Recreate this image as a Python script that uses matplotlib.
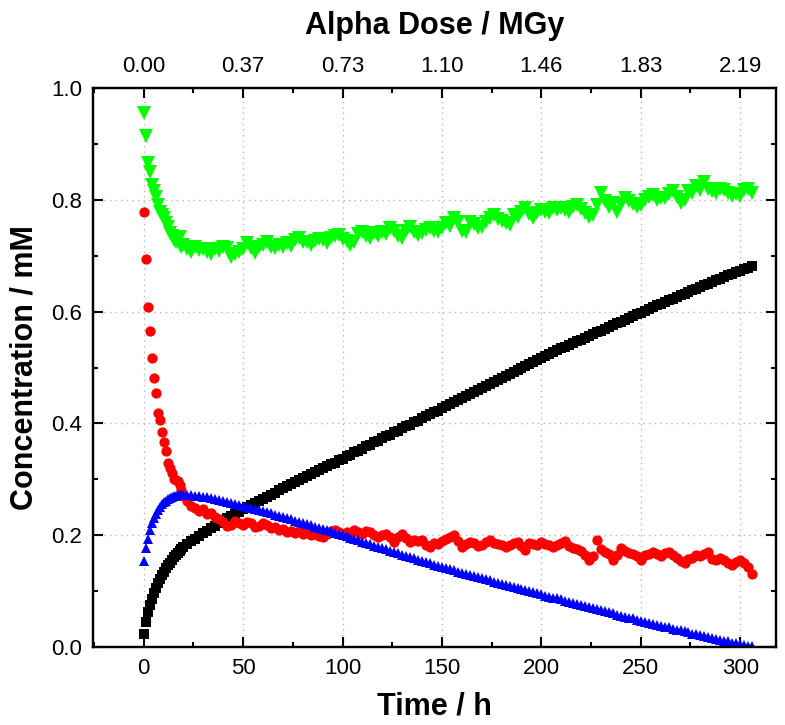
import matplotlib
matplotlib.use("Agg")
import matplotlib.pyplot as plt
from matplotlib.ticker import MultipleLocator

plt.rcParams['font.family'] = ['Liberation Sans', 'DejaVu Sans']

# sampling times (h): hourly for the first 20 h, then every 2 h
time_h = list(range(0, 21)) + list(range(22, 307, 2))

black_sq = [
    0.023, 0.044, 0.062, 0.075, 0.086, 0.097, 0.106, 0.115, 0.122, 0.129, 0.135,
    0.141, 0.146, 0.151, 0.156, 0.161, 0.165, 0.169, 0.172, 0.175, 0.178,
    0.184, 0.189, 0.194, 0.199, 0.204, 0.208, 0.212, 0.217, 0.221, 0.225,
    0.230, 0.234, 0.238, 0.242, 0.246,
    0.250, 0.254, 0.258, 0.262, 0.265, 0.269, 0.272, 0.276, 0.280, 0.284,
    0.288, 0.291, 0.295, 0.299, 0.302, 0.306, 0.309, 0.313, 0.316, 0.320,
    0.323, 0.327, 0.330, 0.334, 0.337,
    0.341, 0.344, 0.348, 0.351, 0.355, 0.359, 0.362, 0.366, 0.369, 0.373,
    0.377, 0.380, 0.384, 0.387, 0.391, 0.395, 0.398, 0.402, 0.405, 0.409,
    0.413, 0.416, 0.420, 0.423, 0.427,
    0.431, 0.434, 0.438, 0.441, 0.445, 0.449, 0.452, 0.456, 0.459, 0.463,
    0.467, 0.470, 0.474, 0.477, 0.481, 0.485, 0.488, 0.492, 0.495, 0.499,
    0.503, 0.506, 0.510, 0.513, 0.517,
    0.520, 0.524, 0.527, 0.531, 0.534, 0.537, 0.541, 0.544, 0.547, 0.550,
    0.553, 0.557, 0.560, 0.563, 0.566, 0.569, 0.573, 0.576, 0.579, 0.582,
    0.585, 0.589, 0.592, 0.595, 0.598,
    0.601, 0.604, 0.608, 0.611, 0.614, 0.617, 0.620, 0.623, 0.626, 0.629,
    0.632, 0.635, 0.638, 0.641, 0.644, 0.647, 0.650, 0.653, 0.656, 0.659,
    0.662, 0.665, 0.668, 0.671, 0.673, 0.676, 0.678, 0.681,
]

red_circ = [
    0.778, 0.694, 0.608, 0.565, 0.517, 0.481, 0.454, 0.419, 0.406, 0.385, 0.367,
    0.350, 0.329, 0.320, 0.311, 0.300, 0.299, 0.297, 0.290, 0.281, 0.270,
    0.262, 0.252, 0.248, 0.244, 0.246, 0.238, 0.240, 0.232, 0.229, 0.224,
    0.216, 0.219, 0.226, 0.221, 0.218,
    0.224, 0.222, 0.214, 0.216, 0.221, 0.218, 0.212, 0.214, 0.209, 0.211,
    0.206, 0.208, 0.204, 0.207, 0.203, 0.205, 0.200, 0.202, 0.198, 0.197,
    0.203, 0.207, 0.210, 0.205, 0.203,
    0.206, 0.201, 0.209, 0.205, 0.203, 0.207, 0.206, 0.200, 0.197, 0.201,
    0.203, 0.196, 0.188, 0.196, 0.203, 0.195, 0.188, 0.192, 0.189, 0.191,
    0.183, 0.179, 0.186, 0.185, 0.190,
    0.194, 0.196, 0.200, 0.190, 0.179, 0.184, 0.188, 0.186, 0.181, 0.182,
    0.188, 0.191, 0.186, 0.185, 0.182, 0.179, 0.183, 0.186, 0.188, 0.180,
    0.174, 0.186, 0.185, 0.182, 0.187,
    0.185, 0.183, 0.179, 0.182, 0.186, 0.190, 0.181, 0.177, 0.175, 0.172,
    0.165, 0.156, 0.162, 0.192, 0.176, 0.170, 0.167, 0.156, 0.165, 0.177,
    0.172, 0.168, 0.166, 0.162, 0.156,
    0.164, 0.167, 0.170, 0.166, 0.162, 0.168, 0.170, 0.165, 0.160, 0.153,
    0.150, 0.157, 0.160, 0.164, 0.162, 0.166, 0.170, 0.158, 0.155, 0.159,
    0.156, 0.150, 0.147, 0.152, 0.155, 0.150, 0.143, 0.130,
]

blue_tri = [
    0.154, 0.177, 0.194, 0.209, 0.221, 0.230, 0.238, 0.245, 0.250, 0.255, 0.259,
    0.262, 0.265, 0.267, 0.268, 0.270, 0.271, 0.272, 0.272, 0.272, 0.272,
    0.272, 0.272, 0.271, 0.270, 0.269, 0.268, 0.266, 0.265, 0.263, 0.262,
    0.260, 0.258, 0.256, 0.254, 0.252,
    0.250, 0.248, 0.247, 0.245, 0.243, 0.241, 0.239, 0.237, 0.235, 0.233,
    0.231, 0.229, 0.226, 0.224, 0.222, 0.220, 0.218, 0.215, 0.213, 0.211,
    0.209, 0.207, 0.204, 0.202, 0.200,
    0.198, 0.195, 0.193, 0.191, 0.188, 0.186, 0.184, 0.181, 0.179, 0.177,
    0.175, 0.172, 0.170, 0.168, 0.165, 0.163, 0.161, 0.159, 0.156, 0.154,
    0.152, 0.150, 0.147, 0.145, 0.143,
    0.141, 0.139, 0.137, 0.135, 0.133, 0.131, 0.129, 0.127, 0.125, 0.123,
    0.121, 0.119, 0.117, 0.115, 0.113, 0.111, 0.109, 0.108, 0.106, 0.104,
    0.102, 0.100, 0.098, 0.096, 0.094,
    0.092, 0.090, 0.088, 0.087, 0.085, 0.083, 0.081, 0.079, 0.077, 0.075,
    0.073, 0.071, 0.070, 0.068, 0.066, 0.064, 0.062, 0.060, 0.058, 0.056,
    0.054, 0.052, 0.051, 0.049, 0.047,
    0.045, 0.043, 0.042, 0.040, 0.038, 0.036, 0.035, 0.033, 0.031, 0.030,
    0.028, 0.026, 0.024, 0.023, 0.021, 0.019, 0.018, 0.016, 0.014, 0.013,
    0.011, 0.010, 0.008, 0.007, 0.005, 0.004, 0.002, 0.001,
]

green_tri = [
    0.955, 0.915, 0.866, 0.850, 0.826, 0.815, 0.805, 0.790, 0.779, 0.772, 0.767,
    0.758, 0.752, 0.740, 0.735, 0.728, 0.724, 0.730, 0.734, 0.716, 0.719,
    0.712, 0.707, 0.715, 0.710, 0.712, 0.706, 0.703, 0.712, 0.709, 0.716,
    0.713, 0.698, 0.703, 0.707, 0.712,
    0.722, 0.713, 0.704, 0.716, 0.720, 0.725, 0.715, 0.713, 0.719, 0.716,
    0.722, 0.718, 0.728, 0.731, 0.724, 0.725, 0.720, 0.727, 0.730, 0.728,
    0.722, 0.732, 0.736, 0.737, 0.730,
    0.726, 0.719, 0.725, 0.738, 0.743, 0.735, 0.732, 0.740, 0.736, 0.742,
    0.738, 0.749, 0.744, 0.736, 0.731, 0.745, 0.752, 0.742, 0.737, 0.741,
    0.746, 0.749, 0.745, 0.743, 0.750,
    0.758, 0.754, 0.767, 0.760, 0.745, 0.743, 0.761, 0.756, 0.750, 0.752,
    0.760, 0.768, 0.773, 0.765, 0.762, 0.758, 0.755, 0.773, 0.770, 0.778,
    0.785, 0.775, 0.767, 0.776, 0.782,
    0.779, 0.776, 0.785, 0.781, 0.786, 0.782, 0.779, 0.787, 0.791, 0.784,
    0.776, 0.770, 0.772, 0.790, 0.812, 0.798, 0.788, 0.794, 0.779, 0.792,
    0.803, 0.798, 0.793, 0.788, 0.791,
    0.800, 0.805, 0.809, 0.799, 0.804, 0.803, 0.810, 0.815, 0.805, 0.794,
    0.800, 0.815, 0.812, 0.824, 0.818, 0.832, 0.820, 0.815, 0.812, 0.820,
    0.818, 0.813, 0.806, 0.810, 0.806, 0.818, 0.820, 0.812,
]

time_ticks = [0, 50, 100, 150, 200, 250, 300]
dose_labels = ["0.00", "0.37", "0.73", "1.10", "1.46", "1.83", "2.19"]

fig = plt.figure(figsize=(7.85, 7.25), dpi=100)
ax = fig.add_axes([0.1185, 0.1076, 0.870, 0.771])

ax.grid(True, which='major', linestyle=(0, (1, 3)), color='#b8b8b8', linewidth=1.0)
ax.set_axisbelow(True)

ax.plot(time_h, black_sq, linestyle='none', marker='s', markersize=6.5,
        color='black', markeredgewidth=0)
ax.plot(time_h, red_circ, linestyle='none', marker='o', markersize=7.4,
        color='#ff0000', markeredgewidth=0)
ax.plot(time_h, blue_tri, linestyle='none', marker='^', markersize=7.6,
        color='#0000ff', markeredgewidth=0)
ax.plot(time_h, green_tri, linestyle='none', marker='v', markersize=9.5,
        color='#00ff00', markeredgewidth=0)

ax.set_xlim(-25.5, 318)
ax.set_ylim(0, 1.0)
ax.set_xticks(time_ticks)
ax.xaxis.set_minor_locator(MultipleLocator(25))
ax.set_yticks([0.0, 0.2, 0.4, 0.6, 0.8, 1.0])
ax.set_yticklabels(["0.0", "0.2", "0.4", "0.6", "0.8", "1.0"])
ax.yaxis.set_minor_locator(MultipleLocator(0.1))

for s in ax.spines.values():
    s.set_linewidth(1.6)

ax.tick_params(which='major', direction='in', length=7, width=1.5,
               labelsize=16, pad=8, right=True)
ax.tick_params(which='minor', direction='in', length=3.5, width=1.5, right=True)

ax.set_xlabel("Time / h", fontsize=22, fontweight='bold', labelpad=9)
ax.set_ylabel("Concentration / mM", fontsize=22, fontweight='bold', labelpad=8)

ax2 = ax.twiny()
ax2.set_xlim(ax.get_xlim())
ax2.set_xticks(time_ticks)
ax2.set_xticklabels(dose_labels)
ax2.xaxis.set_minor_locator(MultipleLocator(25))
ax2.tick_params(which='major', direction='in', length=7, width=1.5,
                labelsize=16, pad=8)
ax2.tick_params(which='minor', direction='in', length=3.5, width=1.5)
ax2.set_xlabel("Alpha Dose / MGy", fontsize=22, fontweight='bold', labelpad=16)
for s in ax2.spines.values():
    s.set_linewidth(1.6)

fig.savefig("out.png", dpi=100)
